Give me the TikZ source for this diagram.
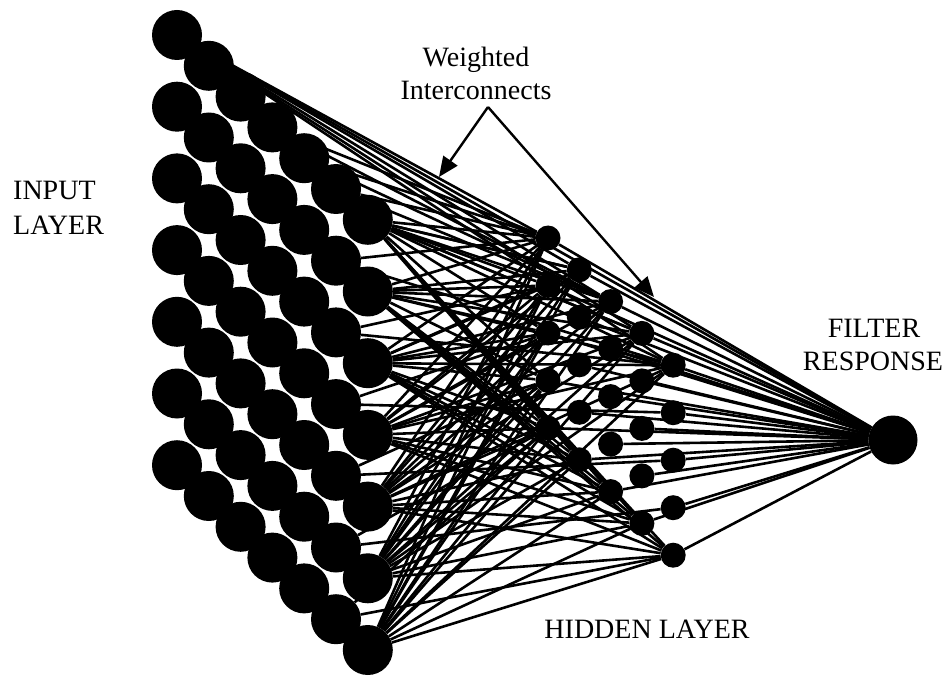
\documentclass[tikz,border=0pt]{standalone}
\usepackage{fontspec}
\setmainfont{Liberation Serif}
\usetikzlibrary{arrows.meta}
\begin{document}
\begin{tikzpicture}[x=1pt,y=-1pt,
  inp/.style={circle,fill=black,inner sep=0pt,minimum size=50pt},
  hid/.style={circle,fill=black,inner sep=0pt,minimum size=25pt},
  outn/.style={circle,fill=black,inner sep=0pt,minimum size=49pt},
  wire/.style={line width=2.6pt},
  lbl/.style={font=\fontsize{28}{34}\selectfont,inner sep=0pt},
  pointer/.style={line width=2.4pt,-{Triangle[length=20pt,width=17pt]}}]
\useasboundingbox (0,0) rectangle (948,679);
% input layer 7x7
\foreach \c in {0,...,6}{
  \foreach \r in {0,...,6}{
    \node[inp] (i-\c-\r) at ({177+31.8*\c},{35+30.8*\c+71.7*\r}) {};
  }
}
% hidden layer 5x5
\foreach \c in {0,...,4}{
  \foreach \r in {0,...,4}{
    \node[hid] (h-\c-\r) at ({548+31.3*\c},{238+31.8*\c+47.5*\r}) {};
  }
}
% output
\node[outn] (out) at (893,440) {};
% top-left input to top row of hidden and output
\foreach \j in {0,...,4}{
  \draw[wire] (i-0-0) -- (h-\j-0);
}
\draw[wire] (i-0-0) -- (out);
% other top-row inputs
\foreach \c in {3,...,5}{
  \draw[wire] (i-\c-0) -- (h-0-0);
  \draw[wire] (i-\c-0) -- (h-2-0);
}
\draw[wire] (i-6-0) -- (h-1-0);
\draw[wire] (i-6-0) -- (h-3-0);
% right column of inputs to hidden
\foreach \r in {0,...,6}{
  \foreach \k in {0,...,4}{
    \draw[wire] (i-6-\r) -- (h-0-\k);
  }
  \foreach \j in {1,...,4}{
    \draw[wire] (i-6-\r) -- (h-\j-4);
    \draw[wire] (i-6-\r) -- (h-\j-0);
  }
}
% second column peeking out
\foreach \r in {1,...,6}{
  \pgfmathtruncatemacro\ka{max(0,min(4,\r-1))}
  \pgfmathtruncatemacro\kb{max(0,min(4,\r-2))}
  \draw[wire] (i-5-\r) -- (h-0-\ka);
  \draw[wire] (i-5-\r) -- (h-4-\kb);
}
% hidden to output
\foreach \c in {0,...,4}{
  \foreach \r in {0,...,4}{
    \draw[wire] (h-\c-\r) -- (out);
  }
}
% labels
\node[lbl,anchor=base west] (inl1) at (13,200) {INPUT};
\node[lbl,anchor=base west] (inl2) at (13,235) {LAYER};
\node[lbl,anchor=base] (wl1) at (476,67) {Weighted};
\node[lbl,anchor=base] (wl2) at (476,100) {Interconnects};
\node[lbl,anchor=base] (fl1) at (874,337) {FILTER};
\node[lbl,anchor=base] (fl2) at (873,370) {RESPONSE};
\node[lbl,anchor=base] (hl) at (647,638) {HIDDEN LAYER};
% pointer arrows
\coordinate (apex) at (488,107);
\coordinate (tipL) at (439,177);
\coordinate (tipR) at (654,297);
\draw[pointer] (apex) -- (tipL);
\draw[pointer] (apex) -- (tipR);
\end{tikzpicture}
\end{document}
